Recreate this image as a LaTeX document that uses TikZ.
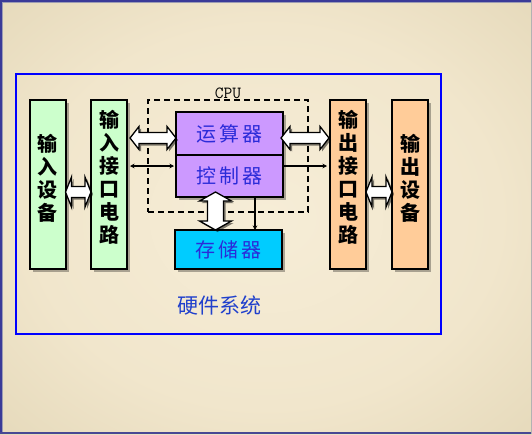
\documentclass[tikz,border=0pt]{standalone}
\usepackage{fontspec}
\setmainfont{Liberation Serif}
\newfontfamily\cjk{Noto Sans CJK SC}
\usetikzlibrary{arrows.meta,calc,shadows}
\definecolor{ingreen}{HTML}{CCFFCC}
\definecolor{outorange}{HTML}{FFCC99}
\definecolor{cpupurple}{HTML}{CC99FF}
\definecolor{memcyan}{HTML}{00CCFF}
\definecolor{txtblue}{HTML}{2B2BD9}
\definecolor{hwblue}{HTML}{2040CC}
\definecolor{frameblue}{HTML}{3A3A98}
\definecolor{framegray}{HTML}{9C9CB4}
\definecolor{bgA}{HTML}{F6EDD7}
\definecolor{bgB}{HTML}{F1E6CC}
\definecolor{bgC}{HTML}{DACDAA}
\definecolor{bgD}{HTML}{CDBE98}
\pgfdeclareradialshading{bgshade}{\pgfpoint{0bp}{0bp}}{color(0bp)=(bgA); color(22bp)=(bgB); color(50bp)=(bgC); color(72bp)=(bgD)}
\newcommand\hblock[6]{%
  \path[blockarrow] let \p1=(#1), \p2=(#2), \p3=(0,#3) in
  (\x1,\y3) -- ({\x1+#6pt},{\y3+#5pt}) -- ({\x1+#6pt},{\y3+#4pt}) --
  ({\x2-#6pt},{\y3+#4pt}) -- ({\x2-#6pt},{\y3+#5pt}) -- (\x2,\y3) --
  ({\x2-#6pt},{\y3-#5pt}) -- ({\x2-#6pt},{\y3-#4pt}) --
  ({\x1+#6pt},{\y3-#4pt}) -- ({\x1+#6pt},{\y3-#5pt}) -- cycle;}
\newcommand\vblock[6]{%
  \path[blockarrow] let \p1=(#1), \p2=(#2), \p3=(#3,0) in
  (\x3,\y1) -- ({\x3+#5pt},{\y1-#6pt}) -- ({\x3+#4pt},{\y1-#6pt}) --
  ({\x3+#4pt},{\y2+#6pt}) -- ({\x3+#5pt},{\y2+#6pt}) -- (\x3,\y2) --
  ({\x3-#5pt},{\y2+#6pt}) -- ({\x3-#4pt},{\y2+#6pt}) --
  ({\x3-#4pt},{\y1-#6pt}) -- ({\x3-#5pt},{\y1-#6pt}) -- cycle;}
\tikzset{
  unitbox/.style={draw=black, line width=2pt, inner sep=0pt, outer sep=0pt,
    drop shadow={shadow xshift=3pt, shadow yshift=-3pt, fill=black, opacity=.3}},
  vbox/.style={unitbox, minimum width=36pt, minimum height=169pt},
  vtext/.style={font=\cjk\bfseries\fontsize{20}{23}\selectfont, align=center, inner sep=0pt},
  cpubox/.style={unitbox, fill=cpupurple, minimum width=107pt, text=txtblue,
    font=\cjk\fontsize{20}{24}\selectfont},
  blockarrow/.style={fill=white, draw=black, line width=1.3pt, line join=miter,
    drop shadow={shadow xshift=2pt, shadow yshift=-2pt, fill=black, opacity=.5}},
  thinarrow/.style={line width=1.1pt, {Stealth[length=4.5pt,width=4.5pt]}-{Stealth[length=4.5pt,width=4.5pt]}},
  onearrow/.style={line width=1.1pt, -{Stealth[length=4.5pt,width=4.5pt]}}
}
\begin{document}
\begin{tikzpicture}[x=1pt, y=-1pt]
\useasboundingbox (0,0) rectangle (532,434);
% background and frame
\shade[shading=bgshade] (0,0) rectangle (532,434);
\fill[frameblue] (0,0) rectangle (532,2.3);
\fill[frameblue] (0,0) rectangle (1.6,434);
\draw[framegray, line width=1pt] (2.8,434) -- (2.8,2.8) -- (532,2.8);
\fill[frameblue!80!gray] (0,432) rectangle (532,434);
\fill[gray!60] (530.5,0) rectangle (532,434);
% hardware system frame
\node[draw=blue, line width=2pt, minimum width=425pt, minimum height=260pt, inner sep=0pt] (hw) at (228.5,204) {};
\node[font=\cjk\fontsize{21}{24}\selectfont, text=hwblue] (hwT) at (219,305) {硬件系统};
% CPU dashed box
\node[draw=black, line width=1.8pt, dash pattern=on 6pt off 4pt, minimum width=160pt, minimum height=112pt, inner sep=0pt] (cpu) at (228,156) {};
\node[font=\ttfamily\fontsize{17}{18}\selectfont] (cpuT) at (228,93) {CPU};
% units
\node[vbox, fill=ingreen] (indev) at (47.5,184.5) {};
\node[vtext] (indevT) at (47.5,178) {输\\入\\设\\备};
\node[vbox, fill=ingreen] (inif) at (109,184.5) {};
\node[vtext] (inifT) at (109,177.5) {输\\入\\接\\口\\电\\路};
\node[vbox, fill=outorange] (outif) at (348,184.5) {};
\node[vtext] (outifT) at (348,177.5) {输\\出\\接\\口\\电\\路};
\node[vbox, fill=outorange] (outdev) at (410,184.5) {};
\node[vtext] (outdevT) at (410,178) {输\\出\\设\\备};
\node[cpubox, minimum height=43pt] (alu) at (229.5,133.5) {运\hspace{3pt}算\hspace{3pt}器};
\node[cpubox, minimum height=42pt] (ctl) at (229.5,176) {控\hspace{3pt}制\hspace{3pt}器};
\node[unitbox, fill=memcyan, minimum width=107pt, minimum height=39pt, text=txtblue,
  font=\cjk\fontsize{20}{24}\selectfont] (mem) at (228.5,249.5) {存\hspace{3pt}储\hspace{3pt}器};
% block arrows
\hblock{indev.east}{inif.west}{192}{5.5}{15}{6}
\hblock{$(inif.east)+(3,0)$}{alu.west}{138}{5.5}{11.5}{9}
\hblock{$(alu.east)+(-2,0)$}{$(outif.west)+(-1,0)$}{138}{5.5}{11.5}{9}
\hblock{outif.east}{outdev.west}{192}{5.5}{15}{6}
\vblock{$(ctl.south)+(0,-5)$}{mem.north}{215.5}{8}{16}{9}
% thin connectors
\coordinate (yc) at (0,166);
\coordinate (xm) at (255,0);
\draw[thinarrow] ($(inif.east |- yc)+(3,0)$) -- ($(ctl.west |- yc)+(-2,0)$);
\draw[onearrow] (ctl.east |- yc) -- ($(outif.west |- yc)+(-3,0)$);
\draw[onearrow] (ctl.south -| xm) -- (mem.north -| xm);
\end{tikzpicture}
\end{document}
